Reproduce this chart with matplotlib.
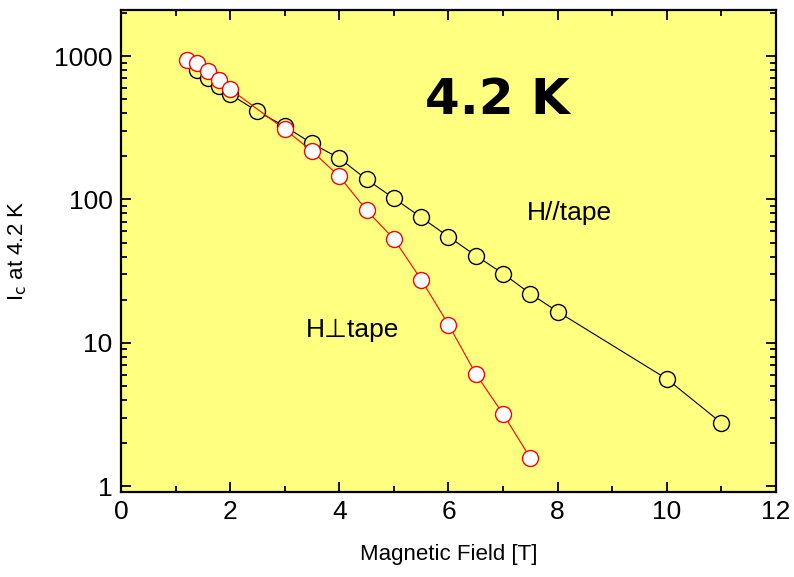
import matplotlib
matplotlib.use("Agg")
import matplotlib.pyplot as plt

plt.rcParams['font.family'] = ['Liberation Sans', 'DejaVu Sans']

bg = '#ffff80'

# H parallel to tape
field_par = [1.4, 1.6, 1.8, 2.0, 2.5, 3.0, 3.5, 4.0, 4.5, 5.0, 5.5, 6.0, 6.5, 7.0, 7.5, 8.0, 10.0, 11.0]
ic_par = [798, 702, 617, 542, 412, 324, 246, 194, 138, 102, 75, 55, 40.6, 30.4, 22, 16.5, 5.6, 2.76]

# H perpendicular to tape
field_perp = [1.2, 1.4, 1.6, 1.8, 2.0, 3.0, 3.5, 4.0, 4.5, 5.0, 5.5, 6.0, 6.5, 7.0, 7.5]
ic_perp = [938, 893, 785, 679, 588, 309, 217, 145, 84, 53, 27.6, 13.4, 6.07, 3.19, 1.57]

fig = plt.figure(figsize=(7.94, 5.77), dpi=100)
ax = fig.add_axes([0.1524, 0.1473, 0.8249, 0.8354])
ax.set_facecolor(bg)

ax.plot(field_par, ic_par, color='black', lw=0.8, marker='o', ms=11.5,
        mfc=bg, mec='black', mew=1.0)
ax.plot(field_perp, ic_perp, color='red', lw=0.8, marker='o', ms=11.5,
        mfc='white', mec='red', mew=1.0)

ax.set_yscale('log')
ax.set_xlim(0, 12)
ax.set_ylim(0.91, 2100)
ax.set_xticks(range(0, 13, 2))
ax.set_xticks(range(1, 12, 2), minor=True)
ax.set_yticks([1, 10, 100, 1000])
ax.set_yticklabels(['1', '10', '100', '1000'])

ax.tick_params(which='both', direction='in', top=True, right=True, width=1.3)
ax.tick_params(which='major', length=7, labelsize=19, pad=6)
ax.tick_params(which='minor', length=4)
for s in ax.spines.values():
    s.set_linewidth(1.6)

ax.set_xlabel('Magnetic Field [T]', fontsize=16, labelpad=14)
ax.set_ylabel(r'I$_\mathrm{c}$ at 4.2 K', fontsize=16, labelpad=18)

ax.text(0.574, 0.813, '4.2 K', transform=ax.transAxes, ha='center', va='center',
        fontsize=36, fontweight='bold', family='DejaVu Sans')
ax.text(0.685, 0.579, 'H//tape', transform=ax.transAxes, ha='center', va='center',
        fontsize=19)
ax.text(0.354, 0.336, 'H\u22a5tape', transform=ax.transAxes, ha='center', va='center',
        fontsize=19)

fig.savefig('out.png', dpi=100)
